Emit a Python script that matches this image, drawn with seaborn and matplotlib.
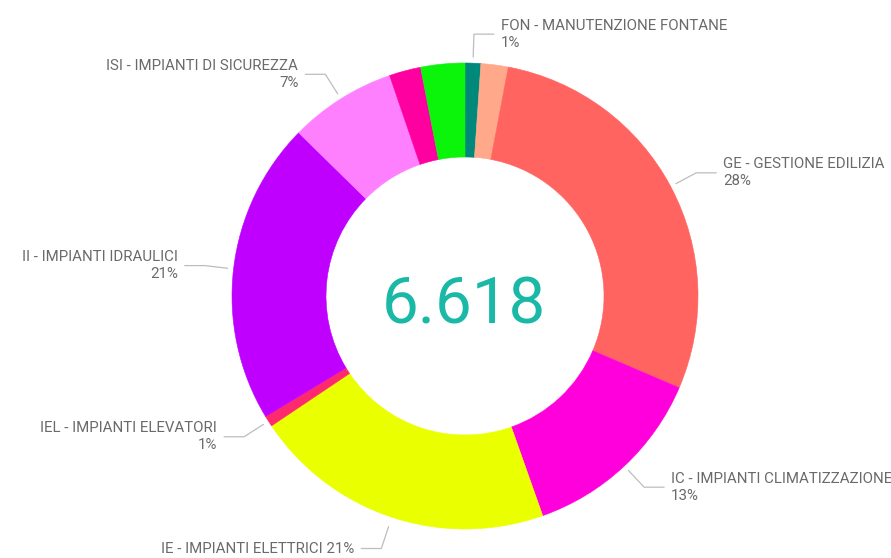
import numpy as np
import seaborn as sns
import matplotlib.pyplot as plt

sns.set_theme(style='white')
plt.rcParams['font.family'] = ['Roboto', 'DejaVu Sans']

# slices, clockwise from 12 o'clock
categories = ['FON - MANUTENZIONE FONTANE', 'GA - ALTRO', 'GE - GESTIONE EDILIZIA',
              'IC - IMPIANTI CLIMATIZZAZIONE', 'IE - IMPIANTI ELETTRICI',
              'IEL - IMPIANTI ELEVATORI', 'II - IMPIANTI IDRAULICI',
              'ISI - IMPIANTI DI SICUREZZA', 'MV - ALTRO', 'VE - ALTRO']
counts = [72, 125, 1884, 870, 1390, 50, 1390, 490, 145, 202]
show_label = [True, False, True, True, True, True, True, True, False, False]
colors = ['#00897B', '#FFA98A', '#FF6461', '#FF00DC', '#EAFF00',
          '#FF2A6D', '#C000FF', '#FF80FF', '#FF00A0', '#0AF50A']

total = sum(counts)
palette = sns.color_palette(colors)

fig = plt.figure(figsize=(8.91, 5.58), dpi=100)
ax = fig.add_axes([0, 0, 1, 1])

cx, cy = 465, 262   # donut centre (pixel-like data units, y up)
R, W = 233, 94

wedges, _ = ax.pie(counts, colors=palette, startangle=90, counterclock=False,
                   center=(cx, cy), radius=R, frame=False,
                   wedgeprops=dict(width=W, linewidth=0.4))
for w in wedges:
    w.set_edgecolor(w.get_facecolor())
ax.set_xlim(0, 891)
ax.set_ylim(0, 558)
ax.set_aspect('equal')
ax.axis('off')

ax.text(cx - 1, cy - 10, f'{total:,}'.replace(',', '.'), ha='center', va='center',
        fontsize=47, color='#1AB8A6')

# leader lines + labels
cum = 0
for name, c, lab in zip(categories, counts, show_label):
    theta = 360 * (cum + c / 2) / total
    cum += c
    if not lab:
        continue
    one_line = abs(theta - 180) < 30
    extra = 4 if one_line else 0
    t = np.radians(theta)
    d = np.array([np.sin(t), np.cos(t)])
    p0 = np.array([cx, cy]) + (R + 6 + extra) * d
    p1 = np.array([cx, cy]) + (R + 29 + extra) * d
    side = 1 if theta < 180 else -1
    p2 = p1 + np.array([side * 20, 0])
    ax.plot([p0[0], p1[0], p2[0]], [p0[1], p1[1], p2[1]], color='#BDBDBD', lw=0.9)
    pct = f'{round(100 * c / total)}%'
    txt = f'{name} {pct}' if one_line else f'{name}\n{pct}'
    ax.text(p2[0] + side * 7, p2[1], txt, ha='left' if side > 0 else 'right',
            va='center', fontsize=10.8, color='#6A6A6A', linespacing=1.25,
            multialignment='left' if side > 0 else 'right')

fig.savefig('out.png', dpi=100)
